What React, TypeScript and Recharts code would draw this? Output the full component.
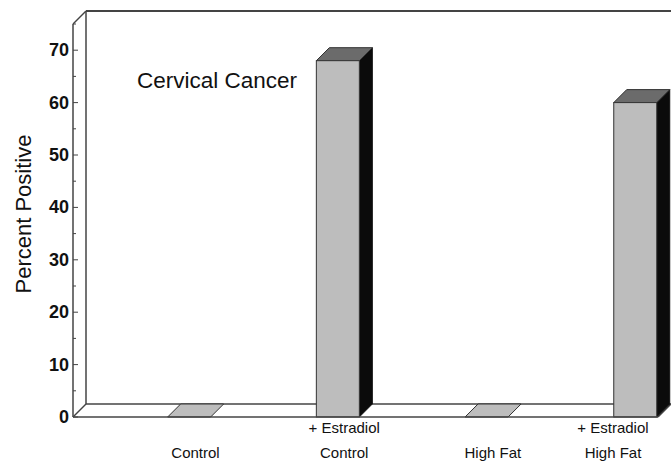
import { BarChart, Bar, XAxis, YAxis } from 'recharts'

// values
const tickTop = ['', '+ Estradiol', '', '+ Estradiol']
const tickBottom = ['Control', 'Control', 'High Fat', 'High Fat']
const percentPositive = [0, 68, 0, 60]
const yTicks = [0, 5, 10, 15, 20, 25, 30, 35, 40, 45, 50, 55, 60, 65, 70, 75]

const data = percentPositive.map((v, i) => ({ idx: i, value: v }))

const W = 671
const H = 461
const LEFT = 73
const TOP = 24
const RIGHT = 13
const XH = 44
const D = 13 // depth of the 3d effect
const FONT = '"Liberation Sans", Arial, sans-serif'
const LINE = '#444'

// 3d bar: front face, top, dark side; a flat tile on the floor when zero
const Bar3D = (props: any) => {
    const { x, y, width: w, height: h } = props
    if (!h || h < 0.5) {
        const b = y + (h || 0)
        return (
            <polygon
                points={`${x},${b} ${x + w},${b} ${x + w + D},${b - D} ${x + D},${b - D}`}
                fill="#bdbdbd"
                stroke="#333"
                strokeWidth={1}
            />
        )
    }
    return (
        <g>
            <polygon
                points={`${x + w},${y} ${x + w + D},${y - D} ${x + w + D},${y + h - D} ${x + w},${y + h}`}
                fill="#0b0b0b"
                stroke="#111"
            />
            <polygon
                points={`${x},${y} ${x + w},${y} ${x + w + D},${y - D} ${x + D},${y - D}`}
                fill="#6b6b6b"
                stroke="#333"
            />
            <rect x={x} y={y} width={w} height={h} fill="#bdbdbd" stroke="#333" strokeWidth={1} />
        </g>
    )
}

const YTick = ({ x, y, payload }: any) => {
    const v = payload.value
    const major = v % 10 === 0
    return (
        <g>
            <line x1={x} x2={x + (major ? 5 : 3)} y1={y} y2={y} stroke={LINE} strokeWidth={1} />
            {major && (
                <text x={x - 4} y={y} textAnchor="end" dominantBaseline="central"
                    fontFamily={FONT} fontWeight="bold" fontSize={18} fill="#111">
                    {v}
                </text>
            )}
        </g>
    )
}

const XTick = ({ x, y, payload }: any) => {
    const i = payload.value
    // keep the labels inside the picture
    const cx = Math.min(x + D / 2, W - 58)
    return (
        <g fontFamily={FONT} fontSize={15} fill="#111" textAnchor="middle">
            {tickTop[i] && <text x={cx} y={y + 16}>{tickTop[i]}</text>}
            <text x={cx} y={y + 41}>{tickBottom[i]}</text>
        </g>
    )
}

// back wall and floor edges of the 3d box
const Frame = () => {
    const r = W - RIGHT
    const b = H - XH
    return (
        <g stroke={LINE} strokeWidth={1.5} fill="none">
            <line x1={LEFT} y1={TOP} x2={LEFT + D} y2={TOP - D} />
            <line x1={LEFT + D} y1={TOP - D} x2={LEFT + D} y2={b - D} />
            <line x1={LEFT + D} y1={TOP - D} x2={W + 5} y2={TOP - D} strokeWidth={2} />
            <line x1={LEFT + D} y1={b - D} x2={W + 5} y2={b - D} />
            <line x1={LEFT} y1={b} x2={LEFT + D} y2={b - D} />
            <line x1={r} y1={b} x2={r + D} y2={b - D} />
        </g>
    )
}

export default function App() {
    return (
        <div style={{ position: 'absolute', left: 0, top: 0, width: W, height: H, overflow: 'hidden', background: '#fff' }}>
            <BarChart width={W} height={H} data={data} margin={{ top: TOP, right: RIGHT, bottom: 0, left: 0 }}>
                <Frame />
                <XAxis
                    dataKey="idx"
                    type="number"
                    domain={[-0.78, 3.154]}
                    ticks={[0, 1, 2, 3]}
                    height={XH}
                    tickLine={false}
                    tickSize={0}
                    tickMargin={0}
                    axisLine={{ stroke: LINE, strokeWidth: 1.5 }}
                    tick={<XTick />}
                    interval={0}
                />
                <YAxis
                    domain={[0, 75]}
                    ticks={yTicks}
                    width={LEFT}
                    tickLine={false}
                    tickSize={0}
                    tickMargin={0}
                    axisLine={{ stroke: LINE, strokeWidth: 1.5 }}
                    tick={<YTick />}
                    interval={0}
                />
                <Bar dataKey="value" barSize={43} shape={<Bar3D />} isAnimationActive={false} />
                <text x={137} y={88} fontFamily={FONT} fontSize={22.5} fill="#111">Cervical Cancer</text>
                <text
                    x={23}
                    y={214}
                    transform="rotate(-90 23 214)"
                    textAnchor="middle"
                    dominantBaseline="central"
                    fontFamily={FONT}
                    fontSize={22}
                    fill="#111"
                >
                    Percent Positive
                </text>
            </BarChart>
        </div>
    )
}
